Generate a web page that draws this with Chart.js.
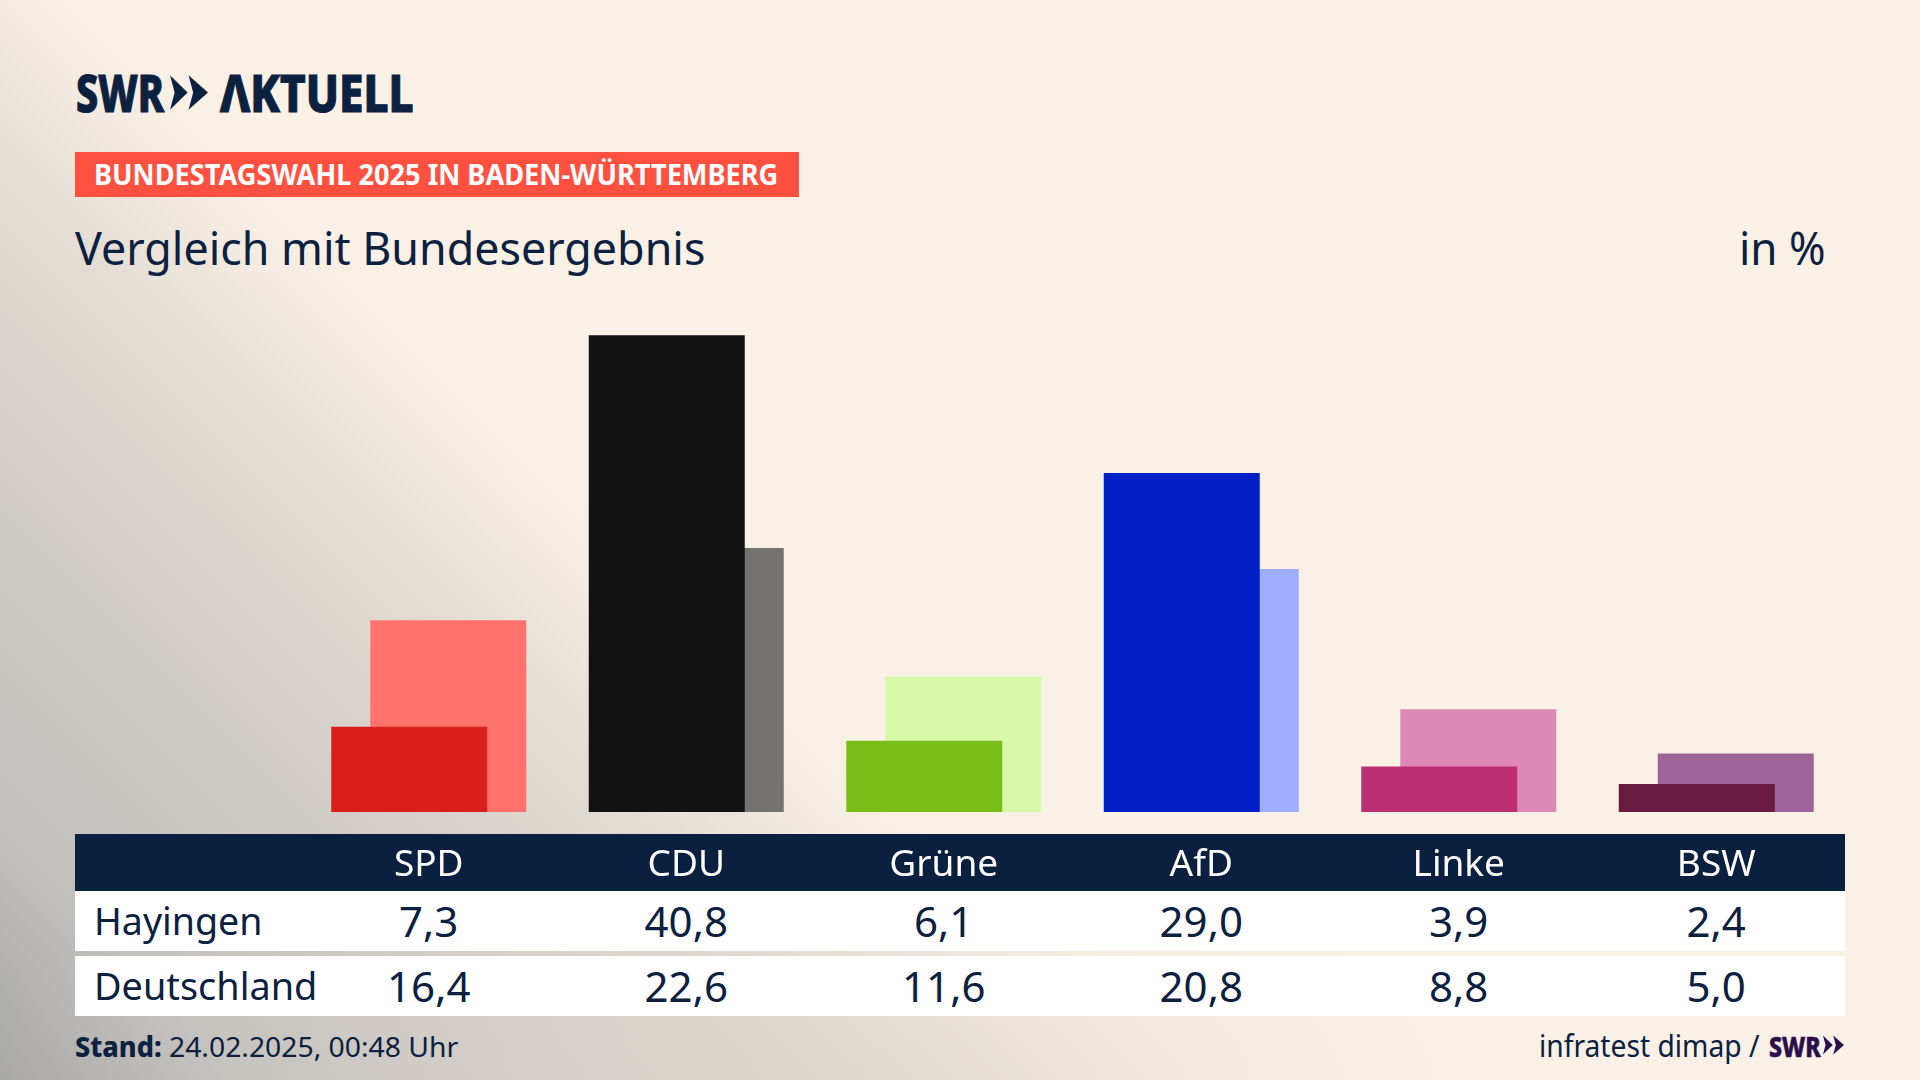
<!DOCTYPE html>
<html lang="de">
<head>
<meta charset="utf-8">
<title>Vergleich mit Bundesergebnis</title>
<script src="https://cdn.jsdelivr.net/npm/chart.js@4"></script>
<style>
  html, body { margin: 0; padding: 0; }
  body {
    position: relative; width: 1920px; height: 1080px; overflow: hidden;
    font-family: "Noto Sans", sans-serif; color: #0c2040;
    background:
      radial-gradient(ellipse 800px 260px at 750px 100%, rgba(222,214,206,.55), rgba(222,214,206,0)),
      linear-gradient(225deg, #faf1e6 60%, #f4ece2 64%, #e3dcd4 70%, #cfcbc6 81%, #c0bfbc 92%, #a6a6a5 100%);
  }
  .t { position: absolute; white-space: nowrap; line-height: 1; transform-origin: left center; }
  .box { position: absolute; }
  .logo { -webkit-text-stroke: 1.2px currentColor; }
  #chartWrap { position: absolute; left: 300px; top: 299px; width: 1545px; height: 592px; }
</style>
</head>
<body>
<div class="t logo" data-w="88" style="left:76px;top:66px;font-size:52px;font-weight:800">SWR</div>
<svg class="box" style="left:170px;top:73px" width="38" height="39" viewBox="0 0 41 37" fill="#0c2040">
  <polygon points="0,0 19,18.5 0,37 5,18.5"/><polygon points="20,0 41,18.5 20,37 25,18.5"/>
</svg>
<div class="t logo" data-w="194" style="left:220px;top:66px;font-size:52px;font-weight:800">ΛKTUELL</div>

<div class="box" style="left:75px;top:152px;width:724px;height:45px;background:#ff5040"></div>
<div class="t" data-w="684" style="left:94px;top:160px;font-size:28px;font-weight:700;color:#fff">BUNDESTAGSWAHL 2025 IN BADEN-WÜRTTEMBERG</div>

<div class="t" data-w="630" style="left:75px;top:225px;font-size:45px">Vergleich mit Bundesergebnis</div>
<div class="t" data-w="87" style="left:1739px;top:225px;font-size:45px">in %</div>

<div class="box" style="left:75px;top:834px;width:1770px;height:57px;background:#0b1f3f"></div>
<div class="box" style="left:75px;top:891px;width:1770px;height:60px;background:#fff"></div>
<div class="box" style="left:75px;top:956px;width:1770px;height:60px;background:#fff"></div>

<div id="chartWrap"><canvas id="barChart" width="1545" height="592"></canvas></div>
<div id="cells"></div>

<div class="t" data-w="168" style="left:94px;top:901px;font-size:38px">Hayingen</div>
<div class="t" data-w="223" style="left:94px;top:966px;font-size:38px">Deutschland</div>

<div class="t" data-w="87" style="left:75px;top:1032px;font-size:28px;font-weight:800">Stand:</div>
<div class="t" data-w="289" style="left:169px;top:1032px;font-size:28px">24.02.2025, 00:48 Uhr</div>
<div class="t" data-w="220" style="left:1539px;top:1031px;font-size:30px">infratest dimap /</div>
<div class="t logo" data-w="52" style="left:1769px;top:1031px;font-size:29px;font-weight:800;color:#2a0f4a;-webkit-text-stroke-width:.6px">SWR</div>
<svg class="box" style="left:1823px;top:1035px" width="21" height="20" viewBox="0 0 41 37" fill="#2a0f4a">
  <polygon points="0,0 19,18.5 0,37 5,18.5"/><polygon points="20,0 41,18.5 20,37 25,18.5"/>
</svg>

<script>
const parties = ['SPD', 'CDU', 'Grüne', 'AfD', 'Linke', 'BSW'];
const hayingen = [7.3, 40.8, 6.1, 29.0, 3.9, 2.4];
const deutschland = [16.4, 22.6, 11.6, 20.8, 8.8, 5.0];
const hayingenColors = ['#d81f1c', '#121212', '#7abd19', '#0020c6', '#bd2f75', '#691a41'];
const deutschlandColors = ['#ff736c', '#747370', '#d7f7a9', '#9fadff', '#df88b7', '#9e6399'];

const colWidth = 1545 / parties.length;

// value cells under the bars
function addRow(values, top) {
  const cells = document.getElementById('cells');
  values.forEach((v, i) => {
    const el = document.createElement('div');
    el.className = 't';
    el.textContent = v.toFixed(1).replace('.', ',');
    el.style.cssText = `top:${top}px;left:${300 + colWidth * (i + 0.5)}px;font-size:42px;transform:translateX(-50%)`;
    cells.appendChild(el);
  });
}
addRow(hayingen, 900);
addRow(deutschland, 965);

// squeeze the text to the measured widths
document.querySelectorAll('[data-w]').forEach(el => {
  const scale = el.dataset.w / el.offsetWidth;
  el.style.transform = `scaleX(${scale})`;
});

new Chart(document.getElementById('barChart').getContext('2d'), {
  type: 'bar',
  data: {
    labels: parties,
    datasets: [
      { label: 'Hayingen', data: hayingen, backgroundColor: hayingenColors },
      { label: 'Deutschland', data: deutschland, backgroundColor: deutschlandColors }
    ]
  },
  options: {
    responsive: false,
    animation: false,
    // two overlapping bars, 39px apart and 156px wide
    categoryPercentage: 78 / colWidth,
    barPercentage: 4,
    layout: { padding: 0 },
    plugins: { legend: { display: false }, tooltip: { enabled: false } },
    scales: {
      x: {
        afterFit: scale => { scale.height = 79; },
        grid: { display: false },
        border: { display: false },
        ticks: {
          color: '#ffffff',
          font: { family: '"Noto Sans"', size: 37 },
          padding: 23,
          maxRotation: 0,
          autoSkip: false
        }
      },
      y: { display: false, min: 0, max: 43.9 }
    }
  }
});
</script>
</body>
</html>
